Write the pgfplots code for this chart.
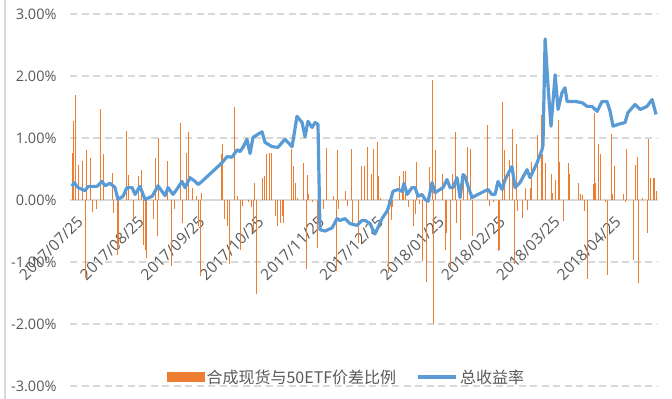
\documentclass[border=0pt]{standalone}
\usepackage{pgfplots}
\pgfplotsset{compat=1.18}
\usepackage{fontspec}
\setmainfont{Open Sans}
\newfontfamily\cjk{Noto Sans CJK SC}
\definecolor{barorange}{HTML}{ED7D31}
\definecolor{lineblue}{HTML}{5B9BD5}
\definecolor{txtgray}{HTML}{595959}
\definecolor{gridgray}{HTML}{D9D9D9}
\begin{document}
\begin{tikzpicture}
\path[use as bounding box] (0,0) rectangle (672bp,399bp);
\draw[gridgray, line width=1.2bp] (5bp,0) -- (5bp,399bp);
\begin{axis}[
  at={(70bp,13bp)}, anchor=south west,
  scale only axis, width=588bp, height=372bp,
  xmin=-1.02, xmax=298.5, ymin=-3, ymax=3,
  axis line style={draw=none},
  major tick length=0pt,
  ytick={-3,-2,-1,0,1,2,3},
  yticklabels={-3.00\%,-2.00\%,-1.00\%,0.00\%,1.00\%,2.00\%,3.00\%},
  ymajorgrids, grid style={gridgray, line width=1.3bp, dash pattern=on 7bp off 4.5bp},
  extra y ticks={0}, extra y tick labels={},
  extra y tick style={grid style={gridgray, line width=1.3bp, solid}},
  xtick={0,31,62,92,123,153,184,215,243,274},
  xticklabels={2017/07/25,2017/08/25,2017/09/25,2017/10/25,2017/11/25,2017/12/25,2018/01/25,2018/02/25,2018/03/25,2018/04/25},
  xticklabel style={yshift=176bp, xshift=4bp, rotate=45, anchor=north east, font=\fontsize{15.5bp}{18bp}\selectfont},
  yticklabel style={xshift=-10bp, font=\fontsize{14.5bp}{16bp}\selectfont},
  ticklabel style={text=txtgray},
  /pgf/number format/assume math mode=true,
  legend columns=2,
  legend style={at={(0.470,0.023)}, anchor=center, draw=none, fill=none,
    font=\cjk\fontsize{16bp}{18bp}\selectfont, text=txtgray,
    /tikz/every even column/.append style={column sep=18bp}},
  clip=false,
]
\addplot[ycomb, mark=none, color=barorange, line width=1.0bp,
  legend image code/.code={\fill[barorange] (0bp,-4.5bp) rectangle (37bp,4.5bp);}]
 coordinates {
(0.0,0.76)(1.0,1.28)(2.0,1.69)(3.1,0.57)(5.6,0.63)(7.1,-1.25)(7.6,0.80)(9.2,0.67)(10.2,-0.20)(12.7,-0.15)
(14.3,1.46)(15.8,0.74)(20.4,0.44)(20.9,-0.21)(23.4,-0.88)(23.9,-0.74)(28.0,1.11)(29.0,0.41)(31.1,-0.31)
(34.1,0.39)(35.2,0.49)(36.2,-0.72)(37.2,-0.80)(38.2,-0.93)(41.3,-0.31)(42.3,0.68)(43.3,-0.58)(44.3,1.00)
(48.4,0.63)(50.9,-1.06)(52.0,-0.15)(55.5,1.25)(56.5,-0.37)(58.1,0.76)(59.1,1.09)(61.6,0.20)(63.2,0.06)
(64.2,-0.42)(65.2,-1.23)(66.2,0.12)(76.4,0.74)(76.9,0.90)(77.9,-0.31)(79.0,-0.42)(80.0,-1.04)(83.0,1.50)
(84.1,0.06)(85.6,-0.80)(86.6,-0.10)(89.7,-0.04)(91.2,-0.12)(92.2,-0.53)(93.2,0.28)(94.2,-1.52)(96.8,0.36)
(97.8,0.39)(99.3,0.74)(100.4,0.76)(101.4,0.76)(103.9,-0.26)(104.9,-0.42)(106.0,-0.37)(107.0,-0.26)(107.5,-0.37)
(111.6,0.82)(112.6,0.55)(114.1,0.28)(115.1,0.04)(117.7,0.59)(119.2,-1.12)(120.2,0.41)(120.7,0.09)(122.3,-0.04)
(125.3,-0.77)(127.9,-0.15)(129.4,0.84)(133.0,0.06)(134.5,-1.15)(135.0,0.81)(136.0,-0.15)(139.1,0.15)(140.1,-0.10)
(142.6,0.82)(143.1,-0.42)(145.7,-0.69)(147.7,0.55)(148.8,0.55)(150.3,0.85)(152.8,0.42)(153.8,0.82)(155.4,0.93)
(155.9,0.39)(156.9,0.04)(161.0,-1.18)(162.5,-0.32)(163.5,-0.12)(166.6,0.39)(168.1,0.17)(169.1,0.47)(170.1,0.47)
(171.2,-0.12)(174.2,-0.42)(175.2,-0.23)(175.7,0.62)(176.8,-0.07)(178.3,-0.99)(180.8,-1.32)(181.9,0.53)(183.4,1.93)
(183.9,-2.00)(185.4,0.80)(188.5,0.42)(190.0,-0.80)(191.0,-0.53)(192.6,-1.08)(193.6,0.42)(195.1,1.10)(196.1,-0.37)
(197.7,-0.64)(199.2,0.34)(201.7,0.86)(202.8,0.83)(203.8,-0.58)(211.9,1.21)(212.9,-0.10)(214.5,-0.04)(217.0,-0.82)
(218.0,-0.80)(219.1,1.58)(220.1,0.81)(222.6,0.65)(224.6,1.14)(225.2,-1.04)(226.2,0.90)(226.7,-0.18)(229.7,-0.29)
(230.8,0.19)(231.8,-0.16)(233.3,0.19)(234.3,0.62)(236.9,1.05)(238.9,1.37)(239.9,0.75)(241.0,0.59)(244.5,0.42)
(245.0,0.11)(246.1,0.33)(247.6,1.29)(248.1,0.62)(250.6,-0.34)(252.7,0.60)(253.2,0.42)(257.8,0.27)(258.8,0.09)
(259.8,0.08)(261.3,-0.18)(262.4,-1.27)(265.4,0.26)(265.9,1.40)(266.9,0.28)(268.0,0.91)(269.0,0.74)(272.0,-0.04)
(273.0,-1.21)(274.6,1.07)(275.1,0.09)(276.1,0.55)(280.7,0.09)(281.7,-0.04)(282.7,0.82)(285.8,-0.97)(286.8,0.57)
(288.3,0.69)(288.8,-1.34)(290.4,0.04)(293.4,-0.53)(293.9,0.99)(294.9,0.36)(296.0,0.36)(296.5,0.36)(297.5,0.15)
};
\addlegendentry{合成现货与50ETF价差比例}
\addplot[color=lineblue, line width=3.2bp, line join=round, mark=none,
  legend image code/.code={\draw[lineblue, line width=4bp] (0bp,0bp) -- (38bp,0bp);}]
 coordinates {
(0,0.22)(1.0,0.28)(3.1,0.20)(6.6,0.15)(8.2,0.22)(12.7,0.22)(15.3,0.30)(16.8,0.23)(19.4,0.27)(21.9,0.20)
(23.4,0.01)(26.0,0.06)(28.0,0.20)(30.6,0.20)(32.1,0.09)(34.6,0.22)(37.2,0.01)(40.8,0.06)(42.3,0.14)(43.8,0.23)
(45.8,0.14)(47.4,0.07)(48.9,0.20)(51.5,0.09)(54.0,0.20)(56.0,0.30)(57.6,0.20)(60.1,0.36)(62.7,0.30)(64.2,0.25)
(66.2,0.30)(76.4,0.60)(79.0,0.70)(81.5,0.69)(84.1,0.81)(85.6,0.78)(87.1,0.85)(89.1,0.98)(90.7,0.75)(92.2,1.01)
(94.7,1.06)(96.8,1.10)(98.3,0.93)(101.9,0.86)(104.9,0.85)(108.5,0.98)(112.1,0.86)(114.6,1.35)(117.2,1.25)(118.7,1.02)
(120.2,1.27)(122.3,1.17)(123.8,1.25)(125.3,1.22)(126.3,-0.48)(128.9,-0.50)(132.5,-0.45)(135.0,-0.30)(136.5,-0.33)
(139.1,-0.30)(141.6,-0.38)(145.2,-0.41)(147.7,-0.33)(149.3,-0.33)(151.8,-0.38)(154.3,-0.55)(155.9,-0.44)(157.9,-0.30)
(160.5,-0.18)(162.0,-0.04)(163.5,0.14)(166.1,0.17)(168.1,0.14)(169.1,0.27)(170.7,0.09)(173.2,0.20)(174.7,0.20)
(176.3,0.06)(178.3,0.09)(179.8,0.01)(181.4,-0.02)(183.4,0.28)(184.9,0.12)(187.5,0.17)(189.0,0.20)(191.0,0.33)
(192.6,0.20)(194.1,0.20)(196.1,0.36)(197.7,0.04)(199.2,0.41)(200.2,0.38)(201.7,0.22)(203.8,0.04)(206.8,0.09)
(211.9,0.17)(213.9,0.09)(215.5,0.09)(217.0,0.30)(219.1,0.17)(220.6,0.33)(224.1,0.54)(225.7,0.20)(228.2,0.28)
(231.8,0.49)(233.3,0.36)(236.9,0.60)(239.4,0.81)(239.9,0.88)(241.0,2.60)(242.5,1.83)(244.0,1.19)(246.1,2.02)
(247.6,1.46)(249.6,1.73)(251.1,1.81)(252.2,1.59)(256.2,1.59)(259.8,1.57)(262.4,1.51)(264.9,1.51)(267.5,1.43)
(270.0,1.59)(272.5,1.59)(274.1,1.43)(275.6,1.19)(278.2,1.22)(281.7,1.25)(283.2,1.41)(286.8,1.54)(289.4,1.46)
(292.9,1.51)(295.5,1.62)(297.5,1.38)
};
\addlegendentry{总收益率}
\end{axis}
\end{tikzpicture}
\end{document}
